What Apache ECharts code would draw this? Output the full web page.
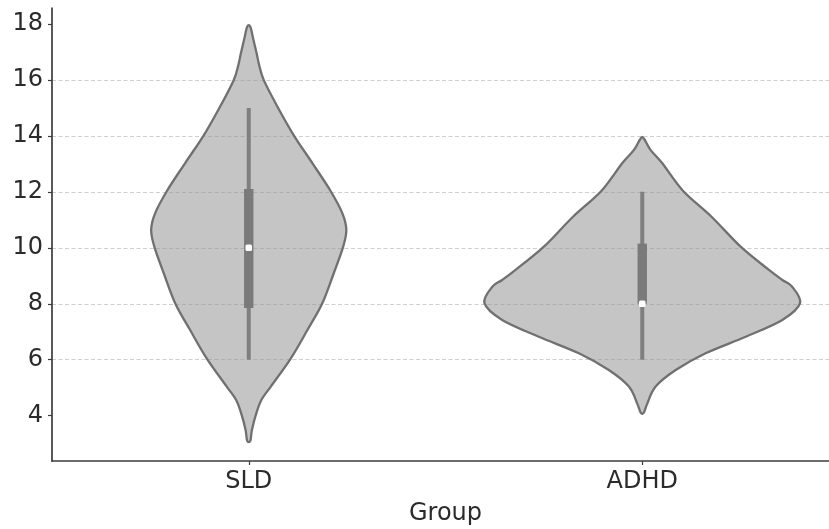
<!DOCTYPE html>
<html>
<head>
<meta charset="utf-8">
<title>Group violin plot</title>
<script src="https://cdn.jsdelivr.net/npm/echarts@6/dist/echarts.min.js"></script>
<style>
  html, body { margin: 0; padding: 0; background: #ffffff; }
  #chart { width: 829px; height: 529px; }
</style>
</head>
<body>
<div id="chart"></div>
<script>
// Groups on the x axis
const groups = ['SLD', 'ADHD'];

// Violin outlines: [score, half-width as a fraction of one category band]
const sldOutline = [
  [17.9, 0.004], [17.43, 0.012], [16.95, 0.020], [16.5, 0.027], [16.0, 0.038],
  [15.04, 0.073], [14.03, 0.114], [13.02, 0.162], [12.03, 0.208], [11.23, 0.238],
  [10.64, 0.248], [10.04, 0.240], [9.09, 0.216], [8.02, 0.187], [7.06, 0.149],
  [6.05, 0.107], [5.04, 0.056], [4.56, 0.032], [4.03, 0.018], [3.49, 0.008],
  [3.1, 0.004]
];
const adhdOutline = [
  [13.91, 0.004], [13.5, 0.021], [13.02, 0.051], [12.03, 0.104], [11.11, 0.176],
  [10.04, 0.250], [9.21, 0.322], [8.85, 0.356], [8.61, 0.381], [8.02, 0.401],
  [7.42, 0.356], [6.82, 0.263], [6.23, 0.161], [5.63, 0.085], [5.04, 0.034],
  [4.44, 0.013], [4.11, 0.004]
];
const outlines = [sldOutline, adhdOutline];

// Inner box summary per group
const whiskerLow = [6, 6];
const q1 = [7.85, 8.0];
const median = [10, 8];
const q3 = [12.1, 10.15];
const whiskerHigh = [15, 12];

// Y axis ticks
const yTicks = [4, 6, 8, 10, 12, 14, 16, 18];

const textColor = '#2b2b2b';
const axisColor = '#3d3d3d';

const chart = echarts.init(document.getElementById('chart'), null, { renderer: 'canvas' });

// Closed Catmull-Rom curve through the outline points, as SVG path data
function closedCurve(pts) {
  const n = pts.length;
  let d = 'M' + pts[0][0].toFixed(2) + ' ' + pts[0][1].toFixed(2);
  for (let k = 0; k < n; k++) {
    const p0 = pts[(k - 1 + n) % n];
    const p1 = pts[k];
    const p2 = pts[(k + 1) % n];
    const p3 = pts[(k + 2) % n];
    const c1x = p1[0] + (p2[0] - p0[0]) / 6;
    const c1y = p1[1] + (p2[1] - p0[1]) / 6;
    const c2x = p2[0] - (p3[0] - p1[0]) / 6;
    const c2y = p2[1] - (p3[1] - p1[1]) / 6;
    d += 'C' + c1x.toFixed(2) + ' ' + c1y.toFixed(2) + ' ' +
      c2x.toFixed(2) + ' ' + c2y.toFixed(2) + ' ' +
      p2[0].toFixed(2) + ' ' + p2[1].toFixed(2);
  }
  return d + 'Z';
}

function renderViolin(params, api) {
  const i = api.value(0);
  const band = api.size([1, 0])[0];
  const right = [];
  const left = [];
  outlines[i].forEach(function (p) {
    const c = api.coord([i, p[0]]);
    right.push([c[0] + p[1] * band, c[1]]);
    left.push([c[0] - p[1] * band, c[1]]);
  });
  const pts = right.concat(left.reverse());

  const lo = api.coord([i, whiskerLow[i]]);
  const hi = api.coord([i, whiskerHigh[i]]);
  const b1 = api.coord([i, q1[i]]);
  const b3 = api.coord([i, q3[i]]);
  const md = api.coord([i, median[i]]);
  const boxW = 9.4;
  const mk = 6.5;

  return {
    type: 'group',
    children: [
      {
        type: 'path',
        shape: { pathData: closedCurve(pts) },
        style: { fill: 'rgba(150,150,150,0.55)', stroke: '#707070', lineWidth: 2.3 }
      },
      {
        type: 'line',
        shape: { x1: lo[0], y1: lo[1], x2: hi[0], y2: hi[1] },
        style: { stroke: '#7f7f7f', lineWidth: 4 }
      },
      {
        type: 'rect',
        shape: { x: b3[0] - boxW / 2, y: b3[1], width: boxW, height: b1[1] - b3[1] },
        style: { fill: '#7a7a7a' }
      },
      {
        type: 'rect',
        shape: { x: md[0] - mk / 2, y: md[1] - mk / 2, width: mk, height: mk, r: 1.5 },
        style: { fill: '#ffffff' }
      }
    ]
  };
}

chart.setOption({
  backgroundColor: '#ffffff',
  animation: false,
  grid: { left: 52, width: 787, top: 8, height: 453, outerBoundsMode: 'none', containLabel: false },
  xAxis: {
    type: 'category',
    data: groups,
    name: 'Group',
    nameLocation: 'middle',
    nameGap: 41,
    nameTextStyle: { fontFamily: 'DejaVu Sans', fontSize: 24, color: textColor },
    axisLine: { show: true, lineStyle: { color: axisColor, width: 1.7 } },
    axisTick: { show: true, alignWithLabel: true, length: 4, lineStyle: { color: axisColor, width: 1.2 } },
    axisLabel: { fontFamily: 'DejaVu Sans', fontSize: 24, color: textColor, margin: 9 },
    splitLine: { show: false }
  },
  yAxis: {
    type: 'value',
    min: 2.38,
    max: 18.57,
    axisLine: { show: true, lineStyle: { color: axisColor, width: 1.7 } },
    axisTick: { show: true, length: 4, customValues: yTicks, lineStyle: { color: axisColor, width: 1.2 } },
    axisLabel: { fontFamily: 'DejaVu Sans', fontSize: 24, color: textColor, margin: 9, customValues: yTicks },
    splitLine: {
      show: true,
      showMinLine: false,
      showMaxLine: false,
      lineStyle: { color: '#cfcfcf', width: 1, type: [4, 2.5] }
    }
  },
  series: [{
    type: 'custom',
    renderItem: renderViolin,
    data: groups.map(function (g, i) { return [i]; }),
    encode: { x: 0 },
    z: 3
  }]
});
</script>
</body>
</html>
